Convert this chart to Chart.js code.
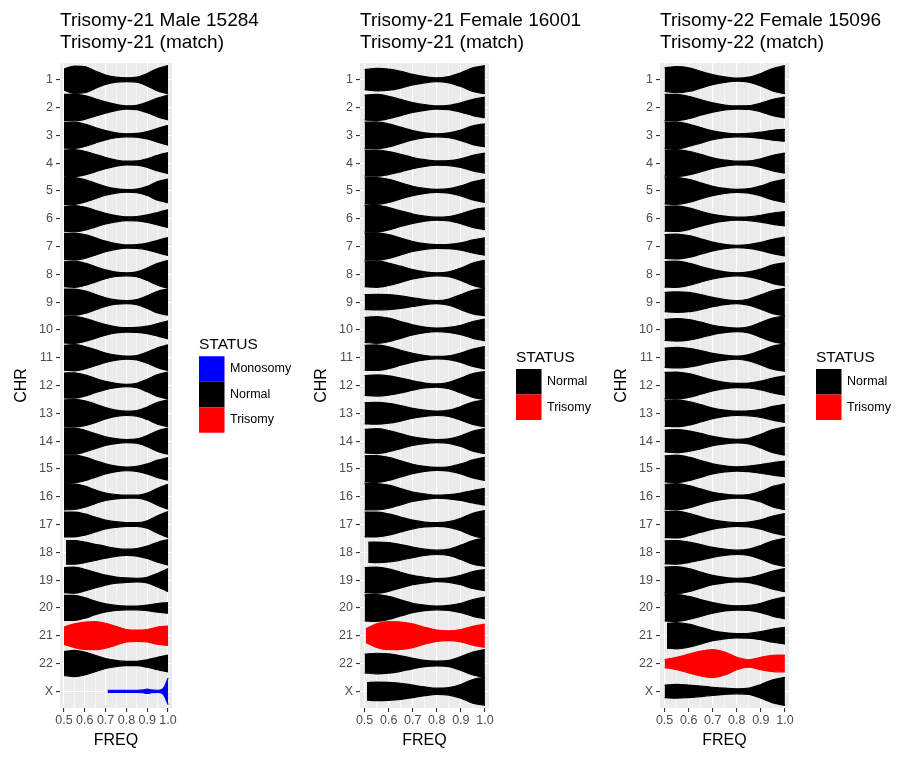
<!DOCTYPE html>
<html>
<head>
<meta charset="utf-8">
<script src="https://cdn.jsdelivr.net/npm/chart.js@4.4.1/dist/chart.umd.min.js"></script>
<style>
body { margin: 0; background: #fff; }
#wrap { position: relative; width: 899px; height: 762px; }
canvas { position: absolute; top: 0; }
</style>
</head>
<body>
<div id="wrap">
<canvas id="p1" width="300" height="762" style="left:0px"></canvas>
<canvas id="p2" width="300" height="762" style="left:300px"></canvas>
<canvas id="p3" width="299" height="762" style="left:600px"></canvas>
</div>
<script>
// categories (top to bottom)
const CHR_LABELS = ['1','2','3','4','5','6','7','8','9','10','11','12','13','14','15','16','17','18','19','20','21','22','X'];
// FREQ positions where violin half-widths were read
const FREQ_GRID = [0.5, 0.55, 0.6, 0.65, 0.7, 0.75, 0.8, 0.85, 0.9, 0.95, 1.0];
const STATUS_COLORS = { Monosomy: '#0000FF', Normal: '#000000', Trisomy: '#FF0000' };
const VIOLIN_SCALE = 1.12; // violin width factor, like ggplot's width=

// ---- panel 1: Trisomy-21 Male 15284 ----
const P1_TITLE = ['Trisomy-21 Male 15284', 'Trisomy-21 (match)'];
const P1_LEGEND = ['Monosomy', 'Normal', 'Trisomy'];
const P1_STATUS = ['Normal','Normal','Normal','Normal','Normal','Normal','Normal','Normal','Normal','Normal','Normal','Normal',
  'Normal','Normal','Normal','Normal','Normal','Normal','Normal','Normal','Trisomy','Normal','Monosomy'];
const P1_START = [0.5,0.5,0.5,0.5,0.5,0.5,0.5,0.5,0.5,0.5,0.5,0.5,0.5,0.5,0.5,0.5,0.5,0.51,0.5,0.5,0.5,0.5,0.71];
const P1_X_FREQ = [0.71, 0.75, 0.8, 0.85, 0.88, 0.9, 0.92, 0.95, 0.97, 0.98, 0.99, 1.0];
const P1_HALFWIDTH = [
  [0.34,0.44,0.42,0.28,0.15,0.08,0.06,0.08,0.2,0.36,0.45],
  [0.42,0.43,0.38,0.28,0.18,0.1,0.05,0.07,0.17,0.3,0.4],
  [0.41,0.42,0.36,0.25,0.15,0.08,0.05,0.06,0.12,0.22,0.32],
  [0.42,0.43,0.38,0.28,0.18,0.1,0.06,0.07,0.14,0.25,0.34],
  [0.43,0.43,0.36,0.25,0.14,0.07,0.04,0.06,0.15,0.3,0.38],
  [0.4,0.42,0.37,0.27,0.17,0.1,0.06,0.07,0.12,0.2,0.29],
  [0.42,0.43,0.38,0.28,0.17,0.09,0.05,0.06,0.11,0.2,0.29],
  [0.4,0.42,0.36,0.25,0.14,0.07,0.05,0.08,0.2,0.35,0.45],
  [0.42,0.42,0.36,0.25,0.14,0.07,0.05,0.08,0.2,0.35,0.42],
  [0.42,0.43,0.37,0.27,0.17,0.1,0.07,0.08,0.12,0.2,0.29],
  [0.4,0.42,0.36,0.26,0.15,0.08,0.05,0.07,0.18,0.32,0.41],
  [0.4,0.41,0.34,0.23,0.13,0.07,0.04,0.07,0.2,0.35,0.43],
  [0.43,0.44,0.4,0.3,0.18,0.1,0.07,0.09,0.2,0.35,0.43],
  [0.42,0.42,0.35,0.24,0.14,0.08,0.05,0.07,0.18,0.33,0.42],
  [0.44,0.44,0.38,0.27,0.16,0.09,0.06,0.08,0.16,0.28,0.36],
  [0.42,0.41,0.34,0.22,0.12,0.07,0.05,0.05,0.12,0.27,0.4],
  [0.4,0.4,0.34,0.24,0.14,0.09,0.06,0.06,0.12,0.28,0.42],
  [0.38,0.38,0.33,0.26,0.19,0.13,0.1,0.12,0.2,0.32,0.41],
  [0.4,0.42,0.35,0.25,0.16,0.1,0.07,0.06,0.09,0.22,0.37],
  [0.4,0.4,0.33,0.22,0.13,0.08,0.06,0.06,0.09,0.14,0.17],
  [0.28,0.38,0.44,0.45,0.4,0.3,0.2,0.18,0.2,0.28,0.31],
  [0.38,0.42,0.37,0.26,0.16,0.1,0.07,0.07,0.12,0.2,0.27],
  [0.035,0.035,0.035,0.035,0.045,0.07,0.045,0.035,0.06,0.12,0.26,0.43]
];

// ---- panel 2: Trisomy-21 Female 16001 ----
const P2_TITLE = ['Trisomy-21 Female 16001', 'Trisomy-21 (match)'];
const P2_LEGEND = ['Normal', 'Trisomy'];
const P2_STATUS = ['Normal','Normal','Normal','Normal','Normal','Normal','Normal','Normal','Normal','Normal','Normal','Normal',
  'Normal','Normal','Normal','Normal','Normal','Normal','Normal','Normal','Trisomy','Normal','Normal'];
const P2_START = [0.5,0.5,0.5,0.5,0.5,0.5,0.5,0.5,0.5,0.5,0.5,0.5,0.5,0.5,0.5,0.5,0.5,0.515,0.5,0.5,0.505,0.5,0.51];
const P2_HALFWIDTH = [
  [0.32,0.36,0.34,0.27,0.17,0.1,0.06,0.1,0.22,0.38,0.45],
  [0.4,0.42,0.36,0.26,0.16,0.09,0.05,0.07,0.15,0.26,0.33],
  [0.42,0.43,0.37,0.26,0.15,0.08,0.05,0.08,0.17,0.3,0.37],
  [0.42,0.42,0.37,0.28,0.18,0.11,0.07,0.08,0.14,0.25,0.32],
  [0.42,0.43,0.37,0.26,0.15,0.08,0.05,0.07,0.16,0.29,0.37],
  [0.42,0.43,0.36,0.25,0.15,0.08,0.05,0.07,0.16,0.28,0.35],
  [0.44,0.44,0.38,0.27,0.16,0.09,0.06,0.07,0.12,0.21,0.28],
  [0.4,0.42,0.36,0.26,0.15,0.08,0.05,0.08,0.2,0.36,0.45],
  [0.24,0.25,0.24,0.2,0.14,0.08,0.05,0.1,0.24,0.38,0.44],
  [0.4,0.43,0.38,0.27,0.16,0.09,0.06,0.08,0.15,0.27,0.35],
  [0.4,0.41,0.35,0.24,0.14,0.07,0.04,0.06,0.15,0.28,0.36],
  [0.32,0.34,0.31,0.24,0.15,0.08,0.05,0.1,0.24,0.38,0.45],
  [0.34,0.35,0.32,0.25,0.16,0.1,0.07,0.1,0.22,0.36,0.43],
  [0.38,0.4,0.34,0.24,0.14,0.08,0.05,0.07,0.17,0.32,0.4],
  [0.42,0.43,0.37,0.26,0.15,0.08,0.05,0.07,0.16,0.29,0.37],
  [0.42,0.42,0.37,0.26,0.15,0.09,0.05,0.07,0.12,0.2,0.27],
  [0.4,0.4,0.34,0.24,0.14,0.08,0.06,0.09,0.2,0.36,0.45],
  [0.32,0.33,0.31,0.25,0.17,0.1,0.07,0.1,0.23,0.38,0.45],
  [0.4,0.42,0.36,0.25,0.15,0.09,0.05,0.07,0.15,0.27,0.34],
  [0.42,0.43,0.37,0.26,0.15,0.09,0.06,0.08,0.15,0.27,0.35],
  [0.22,0.38,0.45,0.44,0.38,0.27,0.18,0.16,0.2,0.3,0.37],
  [0.3,0.33,0.31,0.25,0.17,0.1,0.08,0.1,0.22,0.37,0.45],
  [0.28,0.3,0.29,0.26,0.2,0.14,0.1,0.12,0.22,0.38,0.45]
];

// ---- panel 3: Trisomy-22 Female 15096 ----
const P3_TITLE = ['Trisomy-22 Female 15096', 'Trisomy-22 (match)'];
const P3_LEGEND = ['Normal', 'Trisomy'];
const P3_STATUS = ['Normal','Normal','Normal','Normal','Normal','Normal','Normal','Normal','Normal','Normal','Normal','Normal',
  'Normal','Normal','Normal','Normal','Normal','Normal','Normal','Normal','Normal','Trisomy','Normal'];
const P3_START = [0.5,0.5,0.5,0.5,0.5,0.5,0.5,0.5,0.5,0.5,0.5,0.5,0.5,0.5,0.5,0.5,0.5,0.5,0.5,0.5,0.51,0.5,0.5];
const P3_HALFWIDTH = [
  [0.38,0.42,0.38,0.27,0.16,0.09,0.05,0.08,0.2,0.36,0.45],
  [0.42,0.42,0.36,0.25,0.15,0.08,0.05,0.06,0.14,0.26,0.33],
  [0.42,0.43,0.36,0.25,0.14,0.08,0.05,0.06,0.1,0.16,0.19],
  [0.42,0.43,0.38,0.28,0.17,0.1,0.06,0.07,0.14,0.25,0.32],
  [0.42,0.43,0.37,0.26,0.15,0.08,0.05,0.07,0.16,0.29,0.37],
  [0.4,0.41,0.35,0.24,0.14,0.08,0.05,0.06,0.11,0.18,0.23],
  [0.38,0.4,0.35,0.25,0.14,0.07,0.04,0.06,0.13,0.23,0.3],
  [0.41,0.42,0.36,0.25,0.15,0.08,0.05,0.08,0.17,0.3,0.37],
  [0.31,0.33,0.31,0.24,0.15,0.08,0.05,0.1,0.23,0.37,0.44],
  [0.34,0.36,0.33,0.25,0.15,0.09,0.06,0.1,0.24,0.38,0.45],
  [0.31,0.33,0.3,0.23,0.14,0.08,0.05,0.1,0.23,0.37,0.44],
  [0.42,0.43,0.38,0.28,0.17,0.1,0.07,0.08,0.14,0.24,0.31],
  [0.42,0.43,0.38,0.28,0.17,0.1,0.07,0.08,0.13,0.22,0.29],
  [0.35,0.37,0.33,0.25,0.15,0.09,0.06,0.09,0.22,0.37,0.45],
  [0.42,0.44,0.38,0.27,0.16,0.1,0.07,0.09,0.14,0.2,0.25],
  [0.4,0.42,0.36,0.25,0.14,0.08,0.05,0.07,0.17,0.33,0.42],
  [0.42,0.43,0.36,0.25,0.15,0.09,0.06,0.08,0.15,0.27,0.35],
  [0.37,0.38,0.33,0.25,0.16,0.1,0.07,0.1,0.22,0.37,0.45],
  [0.42,0.43,0.37,0.26,0.15,0.09,0.06,0.08,0.17,0.29,0.37],
  [0.42,0.43,0.37,0.27,0.17,0.1,0.07,0.08,0.15,0.27,0.35],
  [0.4,0.42,0.37,0.27,0.16,0.1,0.07,0.08,0.13,0.21,0.27],
  [0.13,0.2,0.3,0.4,0.45,0.37,0.2,0.12,0.2,0.26,0.27],
  [0.2,0.22,0.2,0.17,0.13,0.1,0.08,0.1,0.22,0.37,0.45]
];

const FONT = '"Liberation Sans", Arial, Helvetica, sans-serif';
Chart.defaults.font.family = FONT;

function isMajor(v) {
  return Math.abs(v * 10 - Math.round(v * 10)) < 1e-6;
}

// two line datasets per violin (upper and lower edge), filled between
function violinDatasets(hw, status, start, grids) {
  const sets = [];
  hw.forEach((w, i) => {
    const xs = grids[i] || FREQ_GRID;
    const color = STATUS_COLORS[status[i]];
    const upper = [], lower = [];
    w.forEach((h, k) => {
      const x = k === 0 ? start[i] : xs[k];
      upper.push({ x: x, y: i - h * VIOLIN_SCALE });
      lower.push({ x: x, y: i + h * VIOLIN_SCALE });
    });
    const base = { borderColor: color, backgroundColor: color, borderWidth: 1.2, pointRadius: 0, cubicInterpolationMode: 'monotone' };
    sets.push(Object.assign({ data: upper, fill: false }, base));
    sets.push(Object.assign({ data: lower, fill: '-1' }, base));
  });
  return sets;
}

function ggPlugin(titleLines, legendNames) {
  return {
    id: 'gg',
    beforeDraw(chart) {
      const a = chart.chartArea, c = chart.ctx;
      c.save();
      c.fillStyle = '#EBEBEB';
      c.fillRect(a.left, a.top, a.right - a.left, a.bottom - a.top);
      c.restore();
    },
    afterDraw(chart) {
      const a = chart.chartArea, c = chart.ctx;
      c.save();
      c.fillStyle = '#000';
      c.textAlign = 'left';
      c.textBaseline = 'alphabetic';
      c.font = '19px ' + FONT;
      c.fillText(titleLines[0], a.left, 25.5);
      c.fillText(titleLines[1], a.left, 48);
      // legend
      const key = 25.5, x0 = a.right + 27;
      const top = (a.top + a.bottom) / 2 - (18 + legendNames.length * key) / 2;
      c.font = '15.5px ' + FONT;
      c.fillText('STATUS', x0, top + 11);
      c.font = '12.5px ' + FONT;
      c.textBaseline = 'middle';
      legendNames.forEach((name, k) => {
        const y = top + 18 + k * key;
        c.fillStyle = STATUS_COLORS[name];
        c.fillRect(x0, y, key, key);
        c.fillStyle = '#000';
        c.fillText(name, x0 + key + 5.5, y + key / 2);
      });
      c.restore();
    }
  };
}

function makePanel(id, title, legendNames, hw, status, start, grids, xMin, xMax, padRight) {
  return new Chart(document.getElementById(id), {
    type: 'line',
    data: { datasets: violinDatasets(hw, status, start, grids) },
    options: {
      responsive: false,
      animation: false,
      events: [],
      layout: { padding: { top: 63, right: padRight, bottom: 0, left: 0 } },
      plugins: { legend: { display: false }, tooltip: { enabled: false }, title: { display: false } },
      scales: {
        x: {
          type: 'linear', min: xMin, max: xMax,
          afterFit: s => { s.height = 54; },
          border: { display: false },
          grid: {
            color: '#FFFFFF',
            lineWidth: c => isMajor(c.tick.value) ? 1.1 : 0.55,
            tickColor: c => isMajor(c.tick.value) ? '#333333' : 'rgba(0,0,0,0)',
            tickLength: 4
          },
          ticks: {
            stepSize: 0.05, includeBounds: false, autoSkip: false, maxRotation: 0, minRotation: 0,
            padding: 1, color: '#4D4D4D', font: { size: 12.5 },
            callback: v => isMajor(v) ? v.toFixed(1) : ''
          },
          title: { display: true, text: 'FREQ', color: '#000', font: { size: 16 }, padding: { top: 0, bottom: 11.4 } }
        },
        y: {
          type: 'linear', reverse: true, min: -0.6, max: 22.6,
          afterFit: s => { s.width = 60; },
          border: { display: false },
          grid: { color: '#FFFFFF', lineWidth: 1.1, tickColor: '#333333', tickLength: 4 },
          ticks: {
            stepSize: 1, includeBounds: false, autoSkip: false, maxTicksLimit: 40,
            padding: 3, color: '#4D4D4D', font: { size: 12.5 },
            callback: v => CHR_LABELS[v]
          },
          title: { display: true, text: 'CHR', color: '#000', font: { size: 16 }, padding: { top: 12.4, bottom: 0 } }
        }
      }
    },
    plugins: [ggPlugin(title, legendNames)]
  });
}

makePanel('p1', P1_TITLE, P1_LEGEND, P1_HALFWIDTH, P1_STATUS, P1_START, { 22: P1_X_FREQ }, 0.481, 1.019, 128);
makePanel('p2', P2_TITLE, P2_LEGEND, P2_HALFWIDTH, P2_STATUS, P2_START, {}, 0.481, 1.017, 111);
makePanel('p3', P3_TITLE, P3_LEGEND, P3_HALFWIDTH, P3_STATUS, P3_START, {}, 0.481, 1.017, 110);
</script>
</body>
</html>
